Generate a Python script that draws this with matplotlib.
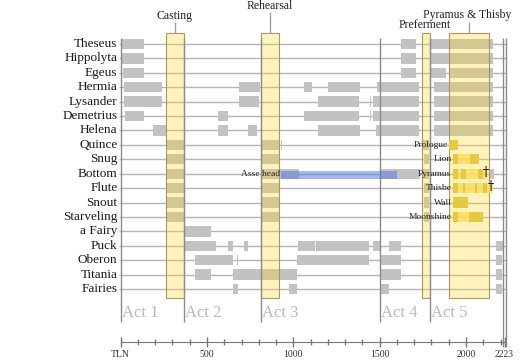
import matplotlib
matplotlib.use("Agg")
import matplotlib.pyplot as plt
from matplotlib.ticker import FixedLocator

plt.rcParams['font.family'] = ['Liberation Serif', 'DejaVu Serif']

# ---------------- data ----------------
characters = ["Theseus", "Hippolyta", "Egeus", "Hermia", "Lysander", "Demetrius",
              "Helena", "Quince", "Snug", "Bottom", "Flute", "Snout", "Starveling",
              "a Fairy", "Puck", "Oberon", "Titania", "Fairies"]

# on-stage spans (TLN start, TLN end) for each character
presence = [
    [(0, 135), (1624, 1710), (1792, 2155)],                                   # Theseus
    [(0, 135), (1624, 1710), (1792, 2155)],                                   # Hippolyta
    [(13, 135), (1624, 1710), (1792, 1884), (1902, 2155)],                    # Egeus
    [(19, 239), (685, 806), (1060, 1106), (1201, 1386), (1484, 1728), (1815, 2155)],  # Hermia
    [(19, 239), (685, 801), (1143, 1380), (1446, 1450), (1460, 1728), (1815, 2155)],  # Lysander
    [(25, 135), (564, 622), (735, 739), (1060, 1380), (1445, 1449), (1460, 1728), (1815, 2155)],  # Demetrius
    [(187, 262), (564, 622), (736, 789), (1143, 1386), (1477, 1728), (1815, 2155)],  # Helena
    [(262, 367), (812, 917), (930, 934), (1745, 1786)],                       # Quince
    [(262, 367), (812, 917), (1758, 1786)],                                   # Snug
    [(262, 367), (812, 1033), (1508, 1734), (1745, 1786), (2131, 2160)],      # Bottom
    [(262, 367), (812, 917), (1758, 1786)],                                   # Flute
    [(262, 367), (812, 917), (932, 936), (1758, 1786)],                       # Snout
    [(262, 367), (812, 917), (1758, 1786)],                                   # Starveling
    [(372, 521)],                                                             # a Fairy
    [(372, 552), (622, 649), (714, 737), (1025, 1125), (1131, 1438), (1460, 1506),
     (1554, 1624), (2172, 2222)],                                             # Puck
    [(430, 649), (676, 680), (1019, 1438), (1508, 1624), (2172, 2207)],       # Oberon
    [(430, 521), (649, 1019), (1508, 1624), (2172, 2207)],                    # Titania
    [(649, 678), (975, 1019), (1508, 1554), (2172, 2207)],                    # Fairies
]

act_names = ["Act 1", "Act 2", "Act 3", "Act 4", "Act 5"]
act_starts = [0, 367, 812, 1500, 1792]
play_end = 2223

scene_names = ["Casting", "Rehearsal", "Preferment", "Pyramus & Thisby"]
scene_spans = [(262, 367), (812, 917), (1745, 1792), (1902, 2131)]

role_names = ["Prologue", "Lion", "Pyramus", "Thisbe", "Wall", "Moonshine"]
role_players = ["Quince", "Snug", "Bottom", "Flute", "Snout", "Starveling"]
role_spans = [(1902, 1952), (1923, 2074), (1923, 2120), (1923, 2155), (1923, 2012), (1923, 2097)]
role_lines = [
    [(1902, 1952)],
    [(1923, 1954), (2023, 2074)],
    [(1925, 1954), (1969, 2000), (2070, 2100)],
    [(1927, 1956), (1984, 1994), (2053, 2063), (2100, 2120)],
    [(1923, 2012)],
    [(1923, 1954), (2017, 2097)],
]
death_players = ["Bottom", "Flute"]
death_tln = [2114, 2143]

transform_name = "Asse head"
transform_player = "Bottom"
transform_span = (927, 1599)

tick_values = [0, 500, 1000, 1500, 2000, 2223]
tick_labels = ["TLN", "500", "1000", "1500", "2000", "2223"]

# ---------------- drawing ----------------
W, H = 528, 361
fig = plt.figure(figsize=(W / 100, H / 100), dpi=100)
axis_px = 342
ax = fig.add_axes([0, (H - axis_px) / H, 1, axis_px / H])

px_per_tln = 0.17265
x0_px = 120.7
ax.set_xlim(-x0_px / px_per_tln, (W - x0_px) / px_per_tln)
row0_px, row_step = 44.0, 14.41
ax.set_ylim((axis_px - row0_px) / row_step, -row0_px / row_step)

rows = {name: i for i, name in enumerate(characters)}
n = len(characters)

# row lines
ax.hlines(range(n), -12, play_end + 10, color='#b4b4b4', lw=1.0, zorder=1)

# presence bars
bar_h = 0.72
for i, spans in enumerate(presence):
    ax.broken_barh([(s, e - s) for s, e in spans], (i - bar_h / 2, bar_h),
                   facecolor='#c2c2c2', edgecolor='none', zorder=2)

# scene bands
band_top, band_bot = -0.74, n - 1 + 0.62
for (s, e) in scene_spans:
    ax.broken_barh([(s, e - s)], (band_top, band_bot - band_top),
                   facecolor=(1.0, 0.843, 0.15, 0.30), edgecolor=(0.62, 0.56, 0.32, 0.9),
                   lw=0.8, zorder=3)

# act lines & labels
act_top, act_bot = -0.42, 19.29
for name, a in zip(act_names, act_starts):
    ax.vlines(a, act_top, act_bot, color='#8a8a8a', lw=1.0, zorder=4)
    ax.text(a + 8, 18.67, name, fontsize=12, color='#b8b8b8', ha='left', va='center', zorder=6)
# end-of-play double line
ax.vlines([play_end - 7, play_end + 10], act_top, (347 - row0_px) / row_step,
          color='#8a8a8a', lw=1.0, zorder=4, clip_on=False)

# scene labels above bands
label_rows = [-1.94, -2.64, -1.32, -2.0]
line_from = [-1.52, -2.2, None, -1.52]
label_dx = [0, 0, -5, -10]
for name, (s, e), ly, lf, dx in zip(scene_names, scene_spans, label_rows, line_from, label_dx):
    c = (s + e) / 2
    ax.text(c + dx, ly, name, fontsize=8.5, ha='center', va='center', color='#222222', zorder=6)
    if lf is not None:
        ax.vlines(c, lf, band_top, color='#a0a0a0', lw=1.0, zorder=4)

# inner-play roles
for name, player, (s, e), lines in zip(role_names, role_players, role_spans, role_lines):
    r = rows[player]
    ax.broken_barh([(s, e - s)], (r - 0.36, 0.72), facecolor='#f8df5c', edgecolor='none',
                   alpha=0.85, zorder=5)
    ax.broken_barh([(a, b - a) for a, b in lines], (r - 0.36, 0.72), facecolor='#e3c53a',
                   edgecolor='none', alpha=0.85, zorder=5)
    ax.text(s - 8, r, name, fontsize=6.8, ha='right', va='center', color='#222222', zorder=6)

for player, t in zip(death_players, death_tln):
    ax.text(t, rows[player] - 0.1, "\u2020", fontsize=9, ha='center', va='center',
            color='black', zorder=7, family=['DejaVu Serif'])

# transformation
r = rows[transform_player]
s, e = transform_span
ax.broken_barh([(s, e - s)], (r - 0.22, 0.6), facecolor=(0.3, 0.45, 0.9, 0.5),
               edgecolor='none', zorder=5)
ax.text(s - 5, r, transform_name, fontsize=6.8, ha='right', va='center', color='#222222', zorder=6)

# character labels
for i, name in enumerate(characters):
    ax.text(-18, i, name, fontsize=9.5, ha='right', va='center', color='#1a1a1a')

# TLN axis
for sp in ['top', 'left', 'right']:
    ax.spines[sp].set_visible(False)
ax.spines['bottom'].set_bounds(0, play_end)
ax.spines['bottom'].set_color('#777777')
ax.yaxis.set_visible(False)
ax.xaxis.set_major_locator(FixedLocator(tick_values))
ax.set_xticklabels(tick_labels, fontsize=7, color='#333333')
ax.xaxis.set_minor_locator(FixedLocator([v for v in range(100, 2223, 100) if v % 500]))
ax.tick_params(axis='x', which='major', direction='inout', length=7.2, width=1,
               color='#777777', pad=2)
ax.tick_params(axis='x', which='minor', direction='inout', length=4.3, width=1,
               color='#777777')
ax.patch.set_alpha(0)

fig.savefig("out.png", dpi=100)
